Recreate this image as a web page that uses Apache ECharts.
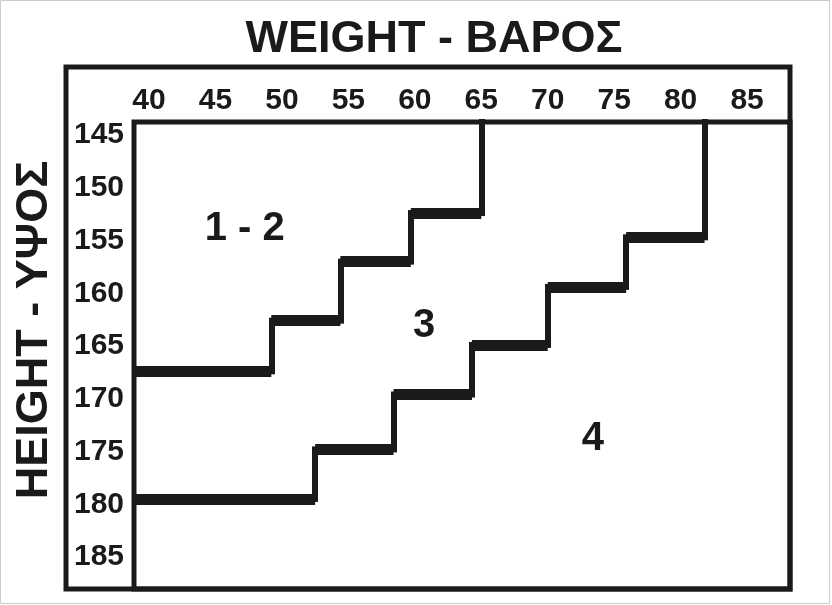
<!DOCTYPE html>
<html>
<head>
<meta charset="utf-8">
<script src="https://cdn.jsdelivr.net/npm/echarts@6/dist/echarts.min.js"></script>
<style>
  html, body { margin: 0; padding: 0; background: #ffffff; }
  #chart { width: 832px; height: 605px; }
</style>
</head>
<body>
<div id="chart"></div>
<script>
// ---- data ----
const weightTicks = [40, 45, 50, 55, 60, 65, 70, 75, 80, 85];
const heightTicks = [145, 150, 155, 160, 165, 170, 175, 180, 185];

// boundary between sizes 1-2 and 3 (step corners: weight kg, height cm)
const boundary12Weights = [65, 59.7, 54.4, 49.2];
const boundary12Heights = [152.4, 157.0, 162.6, 167.4];

// boundary between sizes 3 and 4
const boundary34Weights = [81.8, 75.9, 70.0, 64.3, 58.4, 52.5];
const boundary34Heights = [154.7, 159.4, 164.9, 169.6, 174.8, 179.5];

const zoneNames = ['1 - 2', '3', '4'];
const zoneWeights = [47.2, 60.7, 73.4];
const zoneHeights = [153.9, 163.1, 173.8];

// ---- axis extents ----
const X_MIN = 38.87, X_MAX = 88.23;
const Y_MIN = 143.77, Y_MAX = 188.03;

const FONT = '"Liberation Sans", Arial, Helvetica, sans-serif';
const INK = '#1a1a1a';

function verticals(ws, hs) {
  const segs = [];
  let prevY = Y_MIN;
  for (let i = 0; i < ws.length; i++) {
    segs.push({ coords: [[ws[i], prevY], [ws[i], hs[i]]] });
    prevY = hs[i];
  }
  return segs;
}
function horizontals(ws, hs) {
  const segs = [];
  for (let i = 0; i < ws.length; i++) {
    const xEnd = i + 1 < ws.length ? ws[i + 1] : X_MIN;
    segs.push({ coords: [[ws[i], hs[i]], [xEnd, hs[i]]] });
  }
  return segs;
}
function stepSeries(ws, hs) {
  return [
    {
      type: 'lines', coordinateSystem: 'cartesian2d', silent: true,
      polyline: false, symbol: 'none',
      lineStyle: { color: INK, width: 6, cap: 'square', opacity: 1 },
      data: verticals(ws, hs)
    },
    {
      type: 'lines', coordinateSystem: 'cartesian2d', silent: true,
      polyline: false, symbol: 'none',
      lineStyle: { color: INK, width: 11, cap: 'butt', opacity: 1 },
      data: horizontals(ws, hs)
    }
  ];
}

const chart = echarts.init(document.getElementById('chart'), null, { renderer: 'canvas' });

const option = {
  backgroundColor: '#ffffff',
  animation: false,
  title: {
    text: 'WEIGHT - ΒΑΡΟΣ',
    left: 429,
    textAlign: 'center',
    top: 12,
    textStyle: { fontFamily: FONT, fontSize: 45, fontWeight: 'bold', color: INK }
  },
  grid: {
    left: 134, top: 122, width: 656, height: 467,
    show: true, borderColor: INK, borderWidth: 5, backgroundColor: 'transparent'
  },
  xAxis: {
    type: 'value', position: 'top',
    min: X_MIN, max: X_MAX,
    axisLine: { show: false }, axisTick: { show: false }, splitLine: { show: false },
    axisLabel: {
      customValues: weightTicks,
      fontFamily: FONT, fontSize: 30, fontWeight: 'bold', color: INK, margin: 6
    }
  },
  yAxis: {
    type: 'value', inverse: true,
    min: Y_MIN, max: Y_MAX,
    axisLine: { show: false }, axisTick: { show: false }, splitLine: { show: false },
    axisLabel: {
      customValues: heightTicks,
      fontFamily: FONT, fontSize: 30, fontWeight: 'bold', color: INK, margin: 10
    }
  },
  graphic: [
    {
      type: 'rect', silent: true, z: 0,
      shape: { x: 0.5, y: 0.5, width: 829, height: 603 },
      style: { fill: 'none', stroke: '#cccccc', lineWidth: 1 }
    },
    {
      type: 'rect', silent: true, z: 10,
      shape: { x: 66, y: 67, width: 724, height: 522 },
      style: { fill: 'none', stroke: INK, lineWidth: 5 }
    },
    {
      type: 'text', silent: true, z: 10,
      x: 35, y: 330, rotation: Math.PI / 2,
      style: {
        text: 'HEIGHT - ΥΨΟΣ',
        font: 'bold 45px ' + FONT,
        fill: INK, textAlign: 'center', textVerticalAlign: 'middle'
      }
    }
  ],
  series: [
    ...stepSeries(boundary12Weights, boundary12Heights),
    ...stepSeries(boundary34Weights, boundary34Heights),
    {
      type: 'scatter', silent: true, symbolSize: 1,
      itemStyle: { color: 'rgba(0,0,0,0)', opacity: 1 },
      data: zoneNames.map((n, i) => ({ name: n, value: [zoneWeights[i], zoneHeights[i]] })),
      label: {
        show: true, position: 'inside', formatter: '{b}', opacity: 1,
        fontFamily: FONT, fontSize: 40, fontWeight: 'bold', color: INK,
        textBorderWidth: 0
      }
    }
  ]
};
chart.setOption(option);
</script>
</body>
</html>
